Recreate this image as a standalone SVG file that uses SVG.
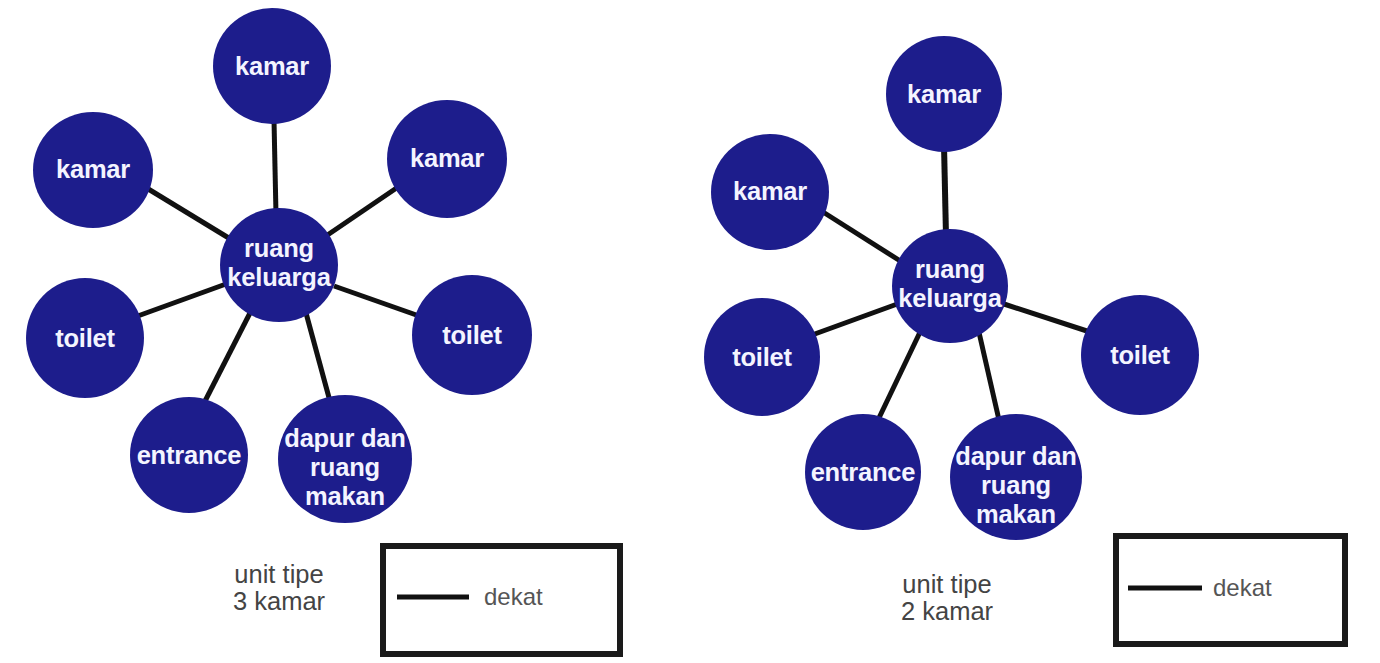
<svg xmlns="http://www.w3.org/2000/svg" width="1380" height="663" viewBox="0 0 1380 663">
  <style>
    .room { fill: #1d1d8c; }
    .label { fill: #f4f4ff; font-family: "Liberation Sans", Arial, sans-serif; font-size: 25.5px; font-weight: bold; text-anchor: middle; letter-spacing: -0.2px; }
    .link { stroke: #111; stroke-width: 5; stroke-linecap: butt; }
    .note { fill: #444; font-family: "Liberation Sans", Arial, sans-serif; font-size: 25.5px; text-anchor: middle; }
    .key-text { fill: #555; font-family: "Liberation Sans", Arial, sans-serif; font-size: 24px; }
    .key-box { fill: #fff; stroke: #1a1a1a; stroke-width: 6; }
  </style>
  <rect width="1380" height="663" fill="#fff"/>

  <!-- 3-bedroom unit: connectors -->
  <g id="connectors-3kamar">
    <line class="link" x1="274" y1="120" x2="276" y2="215"/>
    <line class="link" x1="145" y1="187" x2="232" y2="240"/>
    <line class="link" x1="398" y1="187" x2="326" y2="236"/>
    <line class="link" x1="135" y1="317" x2="226" y2="284"/>
    <line class="link" x1="422" y1="317" x2="334" y2="286"/>
    <line class="link" x1="203" y1="405" x2="250" y2="313"/>
    <line class="link" x1="331" y1="405" x2="306" y2="313"/>
  </g>

  <!-- 3-bedroom unit: rooms -->
  <g id="k3-ruang-keluarga">
    <ellipse class="room" cx="279" cy="265" rx="59" ry="57"/>
    <text class="label" x="279" y="257">ruang</text>
    <text class="label" x="279" y="286">keluarga</text>
  </g>
  <g id="k3-kamar-atas">
    <ellipse class="room" cx="272" cy="66" rx="59" ry="58"/>
    <text class="label" x="272" y="75">kamar</text>
  </g>
  <g id="k3-kamar-kiri">
    <ellipse class="room" cx="93" cy="170" rx="60" ry="58"/>
    <text class="label" x="93" y="178">kamar</text>
  </g>
  <g id="k3-kamar-kanan">
    <ellipse class="room" cx="447" cy="159" rx="60" ry="59"/>
    <text class="label" x="447" y="167">kamar</text>
  </g>
  <g id="k3-toilet-kiri">
    <ellipse class="room" cx="85" cy="338" rx="59" ry="60"/>
    <text class="label" x="85" y="347">toilet</text>
  </g>
  <g id="k3-toilet-kanan">
    <ellipse class="room" cx="472" cy="335" rx="60" ry="60"/>
    <text class="label" x="472" y="344">toilet</text>
  </g>
  <g id="k3-entrance">
    <ellipse class="room" cx="189" cy="455" rx="59" ry="58"/>
    <text class="label" x="189" y="464">entrance</text>
  </g>
  <g id="k3-dapur">
    <ellipse class="room" cx="345" cy="459" rx="67" ry="64"/>
    <text class="label" x="345" y="447">dapur dan</text>
    <text class="label" x="345" y="476">ruang</text>
    <text class="label" x="345" y="505">makan</text>
  </g>

  <!-- 3-bedroom unit: caption and key -->
  <g id="k3-caption">
    <text class="note" x="279" y="583">unit tipe</text>
    <text class="note" x="279" y="610">3 kamar</text>
  </g>
  <g id="k3-legend">
    <rect class="key-box" x="383" y="546" width="237" height="108"/>
    <line class="link" x1="397" y1="597" x2="469" y2="597"/>
    <text class="key-text" x="484" y="605">dekat</text>
  </g>

  <!-- 2-bedroom unit: connectors -->
  <g id="connectors-2kamar">
    <line class="link" x1="944" y1="145" x2="946" y2="236" style="stroke-width:6"/>
    <line class="link" x1="823" y1="212" x2="905" y2="264"/>
    <line class="link" x1="812" y1="335" x2="900" y2="303"/>
    <line class="link" x1="1090" y1="332" x2="1004" y2="304"/>
    <line class="link" x1="878" y1="420" x2="922" y2="328"/>
    <line class="link" x1="999" y1="420" x2="978" y2="328"/>
  </g>

  <!-- 2-bedroom unit: rooms -->
  <g id="k2-ruang-keluarga">
    <ellipse class="room" cx="950" cy="286" rx="58" ry="57"/>
    <text class="label" x="950" y="278">ruang</text>
    <text class="label" x="950" y="307">keluarga</text>
  </g>
  <g id="k2-kamar-atas">
    <ellipse class="room" cx="944" cy="94" rx="58" ry="58"/>
    <text class="label" x="944" y="103">kamar</text>
  </g>
  <g id="k2-kamar-kiri">
    <ellipse class="room" cx="770" cy="192" rx="59" ry="58"/>
    <text class="label" x="770" y="200">kamar</text>
  </g>
  <g id="k2-toilet-kiri">
    <ellipse class="room" cx="762" cy="357" rx="58" ry="59"/>
    <text class="label" x="762" y="366">toilet</text>
  </g>
  <g id="k2-toilet-kanan">
    <ellipse class="room" cx="1140" cy="355" rx="59" ry="60"/>
    <text class="label" x="1140" y="364">toilet</text>
  </g>
  <g id="k2-entrance">
    <ellipse class="room" cx="863" cy="472" rx="58" ry="58"/>
    <text class="label" x="863" y="481">entrance</text>
  </g>
  <g id="k2-dapur">
    <ellipse class="room" cx="1016" cy="477" rx="66" ry="63"/>
    <text class="label" x="1016" y="465">dapur dan</text>
    <text class="label" x="1016" y="494">ruang</text>
    <text class="label" x="1016" y="523">makan</text>
  </g>

  <!-- 2-bedroom unit: caption and key -->
  <g id="k2-caption">
    <text class="note" x="947" y="593">unit tipe</text>
    <text class="note" x="947" y="620">2 kamar</text>
  </g>
  <g id="k2-legend">
    <rect class="key-box" x="1116" y="536" width="229" height="108"/>
    <line class="link" x1="1128" y1="588" x2="1202" y2="588"/>
    <text class="key-text" x="1213" y="596">dekat</text>
  </g>
</svg>
